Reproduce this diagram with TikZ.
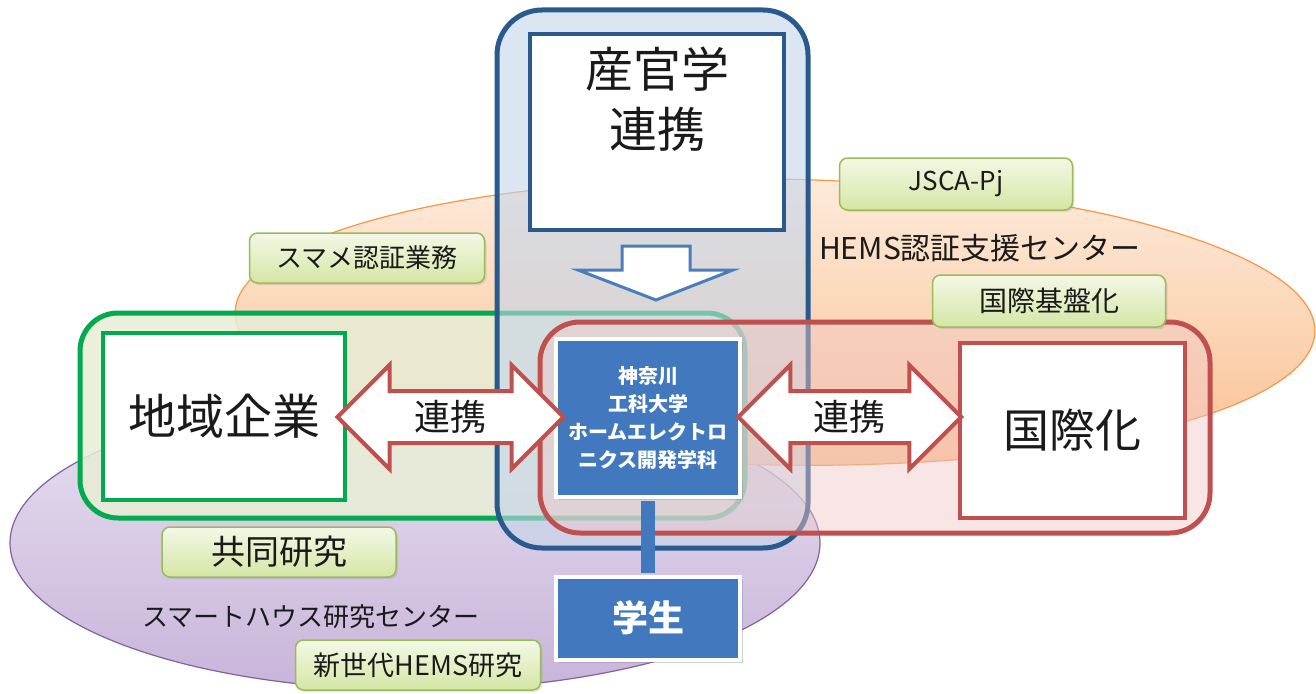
\documentclass[tikz,border=0pt]{standalone}
\usepackage{fontspec}
\setmainfont{Noto Sans CJK JP}
\usetikzlibrary{shapes.arrows,shadows,calc}

\definecolor{navyline}{HTML}{285A8E}
\definecolor{navyfill}{HTML}{C4D5EA}
\definecolor{boxblue}{HTML}{4178BE}
\definecolor{arrowblue}{HTML}{4A7EBB}
\definecolor{redline}{HTML}{C0504D}
\definecolor{redfill}{HTML}{F0C8C8}
\definecolor{greenline}{HTML}{00AA4E}
\definecolor{greenfill}{HTML}{E8EDD6}
\definecolor{taggreen}{HTML}{9BBB59}
\definecolor{tagtop}{HTML}{F3F8E6}
\definecolor{tagbottom}{HTML}{D4E6A5}
\definecolor{orangeline}{HTML}{F79646}
\definecolor{orangetop}{HTML}{FDEBDC}
\definecolor{orangebottom}{HTML}{FAC090}
\definecolor{purpleline}{HTML}{7E63A0}
\definecolor{purpletop}{HTML}{E8E1F0}
\definecolor{purplebottom}{HTML}{C8B4DA}
\definecolor{inktext}{HTML}{1A1A1A}

\newcommand{\setfs}[2]{\fontsize{#1pt}{#2pt}\selectfont}

\tikzset{
  outerbox/.style={line width=5pt, rounded corners=40pt},
  innerbox/.style={draw=#1, fill=white, line width=4pt, inner sep=0pt, text=inktext},
  bluebox/.style={fill=boxblue, draw=white, line width=4pt, text=white, align=center,
    drop shadow={opacity=0.35, shadow xshift=3pt, shadow yshift=-3pt}},
  tagbox/.style={draw=taggreen, line width=1.5pt, rounded corners=8pt,
    top color=tagtop, bottom color=tagbottom, text=inktext,
    minimum height=50pt, font=\setfs{26}{30},
    drop shadow={opacity=0.2, shadow xshift=2pt, shadow yshift=-2pt}},
  linkarrow/.style={double arrow, draw=redline, fill=white, line width=4pt,
    double arrow head extend=26pt, double arrow tip angle=90,
    inner xsep=0pt, inner ysep=0pt, text height=37.5pt, text depth=10.5pt,
    font=\setfs{36}{40}, text=inktext},
  centrelabel/.style={font=\setfs{26}{30}, text=inktext}
}

\begin{document}
\begin{tikzpicture}[x=1pt,y=-1pt]
  \useasboundingbox (0,0) rectangle (1316,693);

  % research centres
  \draw[purpleline, line width=1.2pt, top color=purpletop, bottom color=purplebottom]
    (415,543) ellipse [x radius=405, y radius=147];
  \draw[orangeline, line width=1.2pt, top color=orangetop, bottom color=orangebottom,
    rotate around={-1:(775,322)}]
    (775,322) ellipse [x radius=540, y radius=143];

  % groups
  \draw[outerbox, draw=greenline, fill=greenfill, fill opacity=0.85, rounded corners=38pt]
    (80,313) rectangle (745,518);
  \draw[outerbox, draw=navyline, fill=navyfill, fill opacity=0.6, rounded corners=45pt]
    (497,10) rectangle (808,548);
  \draw[outerbox, draw=redline, fill=redfill, fill opacity=0.45]
    (540,322) rectangle (1210,533);

  % partners
  \node[innerbox=navyline, minimum width=254pt, minimum height=195pt] (sangaku) at (657,132) {};
  \node[font=\setfs{48}{60}, align=center, text=inktext] (sangakutext)
    at ($(sangaku.north)+(0,67)$) {産官学\\連携};
  \node[innerbox=greenline, minimum width=242pt, minimum height=167pt, font=\setfs{48}{56}]
    (chiiki) at (224,416) {地域企業};
  \node[innerbox=redline, minimum width=225pt, minimum height=175pt, font=\setfs{46}{56}]
    (kokusai) at (1072,430) {国際化};

  % down arrow
  \draw[arrowblue, fill=white, line width=3pt, line join=miter]
    (622,246) -- (690,246) -- (690,270) -- (733,270) -- (656,300)
    -- (578,270) -- (622,270) -- cycle;

  % university
  \node[bluebox, minimum width=184pt, minimum height=158pt, font=\bfseries\setfs{20}{28}]
    (kait) at (648,418) {神奈川\\工科大学\\ホームエレクトロ\\ニクス開発学科};
  \node[bluebox, minimum width=184pt, minimum height=83pt, font=\bfseries\setfs{36}{40}]
    (gakusei) at (648,618) {学生};
  \draw[boxblue, line width=14pt, shorten <=2pt, shorten >=2pt] (kait.south) -- (gakusei.north);

  % links
  \node[linkarrow, minimum height=226pt] (leftlink) at ($(chiiki.east)!0.5!(kait.west)$) {連携};
  \node[linkarrow, minimum height=223pt] (rightlink) at ($(kait.east)!0.5!(kokusai.west)+(0,-7)$) {連携};

  % activities
  \node[tagbox, minimum width=235pt] (smame) at (367,258) {スマメ認証業務};
  \node[tagbox, minimum width=233pt, minimum height=52pt] (jsca) at (956,184) {JSCA-Pj};
  \node[tagbox, minimum width=233pt, minimum height=52pt, font=\setfs{28}{32}] (kibanka) at (1049,301) {国際基盤化};
  \node[tagbox, minimum width=234pt, font=\setfs{34}{38}] (kyodo) at (279,552) {共同研究};
  \node[tagbox, minimum width=245pt, font=\setfs{27}{30}] (shinsedai) at (418,665) {新世代HEMS研究};

  \node[centrelabel, font=\setfs{30}{34}] (hemscentre) at (980,248) {HEMS認証支援センター};
  \node[centrelabel] (smartcentre) at (311,617) {スマートハウス研究センター};
\end{tikzpicture}
\end{document}
